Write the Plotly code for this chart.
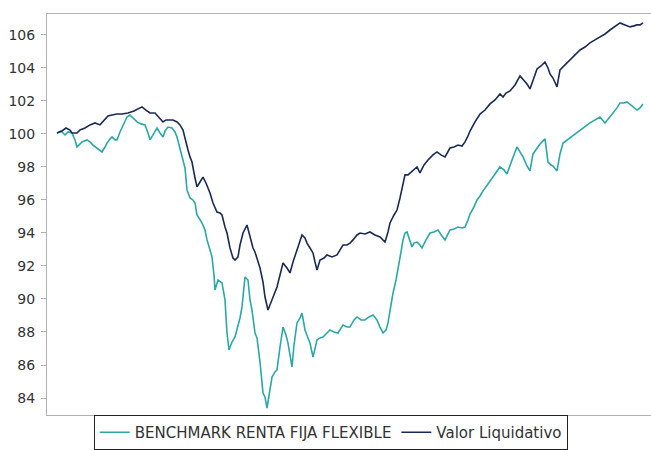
import plotly.graph_objects as go

# Trading-day index and values
vl_dias = [0, 5, 9, 13, 15, 20, 23, 28, 33, 38, 43, 47, 51, 55, 60, 65, 71, 77, 81, 85, 89, 93, 98,
           103, 106, 109, 113, 116, 120, 123, 126, 129, 131, 133, 135, 138, 140, 143, 146, 149, 153,
           156, 160, 163, 165, 168, 170, 173, 176, 178, 181, 183, 186, 190, 193, 196, 198, 200, 203,
           206, 208, 211, 213, 216, 220, 223, 226, 230, 233, 236, 240, 243, 245, 248, 250, 253, 256,
           258, 260, 263, 267, 270, 275, 280, 283, 286, 290, 293, 296, 300, 303, 308, 313, 318, 323,
           328, 331, 333, 337, 340, 343, 345, 348, 351, 353, 356, 360, 363, 367, 371, 376, 380, 384,
           388, 393, 397, 401, 405, 408, 411, 413, 418, 423, 428, 433, 438, 443, 446, 449, 453, 458,
           463, 467, 470, 473, 477, 480, 484, 488, 491, 493, 496, 500, 503, 508, 513, 518, 523, 528,
           533, 538, 543, 548, 553, 558, 563, 568, 573, 577, 580, 583, 586]
vl_valores = [100.06, 100.18, 100.36, 100.24, 100.06, 100.06, 100.24, 100.36, 100.55, 100.67, 100.55,
              100.85, 101.09, 101.15, 101.21, 101.21, 101.27, 101.39, 101.52, 101.64, 101.45, 101.27,
              101.27, 100.97, 100.73, 100.85, 100.85, 100.85, 100.73, 100.55, 100.24, 99.45, 99.03,
              98.61, 98.30, 97.33, 96.79, 97.09, 97.39, 97.03, 96.42, 95.82, 95.27, 95.21, 95.09,
              94.36, 94.00, 93.09, 92.48, 92.36, 92.55, 93.27, 94.00, 94.48, 93.76, 93.09, 92.85,
              92.48, 91.88, 91.03, 90.12, 89.33, 89.64, 90.06, 90.73, 91.45, 92.18, 91.88, 91.58,
              92.24, 92.97, 93.45, 93.88, 93.70, 93.39, 93.09, 92.79, 92.24, 91.76, 92.36, 92.48,
              92.67, 92.55, 92.67, 92.97, 93.27, 93.27, 93.39, 93.58, 93.88, 94.00, 93.94, 94.06,
              93.88, 93.76, 93.45, 94.06, 94.61, 95.09, 95.39, 96.12, 96.61, 97.52, 97.52, 97.64,
              97.82, 98.00, 97.64, 98.12, 98.42, 98.73, 98.91, 98.73, 98.61, 99.15, 99.21, 99.33,
              99.27, 99.52, 99.88, 100.18, 100.73, 101.21, 101.45, 101.82, 102.06, 102.42, 102.24,
              102.48, 102.61, 102.97, 103.52, 103.27, 103.03, 102.73, 103.39, 103.94, 104.12, 104.36,
              104.00, 103.64, 103.39, 102.85, 103.88, 104.18, 104.48, 104.79, 105.09, 105.27, 105.52,
              105.70, 105.88, 106.06, 106.30, 106.49, 106.73, 106.61, 106.49, 106.55, 106.61, 106.61,
              106.73]

bm_dias = [0, 4, 8, 11, 15, 18, 20, 23, 25, 30, 33, 36, 40, 43, 45, 48, 50, 53, 55, 58, 60, 63, 67,
           70, 73, 76, 80, 84, 88, 91, 93, 96, 100, 103, 106, 108, 111, 115, 118, 120, 123, 126, 128,
           130, 133, 136, 138, 140, 143, 145, 148, 150, 153, 155, 157, 158, 161, 165, 168, 170, 172,
           175, 178, 181, 183, 185, 188, 191, 193, 195, 198, 200, 203, 206, 208, 210, 213, 215, 218,
           220, 223, 226, 229, 231, 235, 237, 240, 243, 245, 248, 251, 253, 256, 260, 263, 266, 270,
           273, 277, 281, 286, 290, 293, 297, 300, 304, 308, 312, 316, 320, 323, 326, 329, 331, 334,
           336, 339, 341, 344, 346, 348, 350, 353, 355, 357, 360, 363, 365, 369, 373, 377, 381, 385,
           388, 391, 393, 397, 401, 405, 408, 411, 413, 417, 420, 423, 426, 431, 436, 440, 443, 447,
           450, 455, 460, 463, 466, 470, 473, 476, 480, 483, 488, 491, 494, 496, 500, 503, 506, 510,
           514, 520, 526, 533, 538, 543, 548, 552, 556, 560, 563, 567, 570, 575, 580, 583, 586]
bm_valores = [100.06, 100.18, 99.94, 100.12, 100.06, 99.64, 99.21, 99.39, 99.52, 99.64, 99.52, 99.33,
              99.15, 99.03, 98.91, 99.21, 99.45, 99.70, 99.82, 99.64, 99.64, 100.12, 100.67, 101.03,
              101.15, 100.97, 100.73, 100.61, 100.55, 100.06, 99.64, 99.94, 100.36, 100.06, 99.82,
              100.18, 100.42, 100.36, 100.12, 99.82, 99.15, 98.42, 97.94, 96.61, 96.12, 96.00, 95.82,
              95.09, 94.79, 94.61, 94.18, 93.58, 92.97, 92.55, 91.45, 90.55, 91.15, 90.97, 89.94,
              87.94, 86.91, 87.39, 87.70, 88.30, 88.85, 89.52, 91.33, 91.15, 89.94, 89.33, 87.94,
              87.64, 86.18, 84.30, 84.06, 83.39, 84.48, 85.27, 85.58, 85.70, 87.09, 88.30, 87.82,
              87.33, 85.88, 87.21, 88.55, 88.85, 89.15, 88.12, 87.64, 87.33, 86.48, 87.52, 87.64,
              87.70, 87.94, 88.12, 88.00, 87.94, 88.42, 88.30, 88.30, 88.73, 88.91, 88.73, 88.73,
              88.91, 89.03, 88.73, 88.30, 87.94, 88.12, 88.55, 89.64, 90.36, 91.15, 91.94, 92.85,
              93.58, 94.00, 94.06, 93.58, 93.15, 93.39, 93.45, 93.27, 93.09, 93.58, 94.00, 94.06,
              94.18, 93.82, 93.58, 93.94, 94.18, 94.24, 94.36, 94.30, 94.36, 94.79, 95.15, 95.58,
              96.00, 96.24, 96.55, 96.97, 97.39, 97.70, 98.00, 97.82, 97.58, 98.42, 99.21, 98.91,
              98.61, 98.06, 97.76, 98.79, 99.15, 99.39, 99.70, 98.30, 98.12, 98.06, 97.76, 98.79,
              99.45, 99.64, 99.82, 100.06, 100.36, 100.67, 100.85, 101.03, 100.67, 100.97, 101.27,
              101.58, 101.88, 101.88, 101.94, 101.70, 101.45, 101.58, 101.82]

y_ticks = [84, 86, 88, 90, 92, 94, 96, 98, 100, 102, 104, 106]

fig = go.Figure()
fig.add_trace(go.Scatter(x=bm_dias, y=bm_valores, mode="lines",
                         name="BENCHMARK RENTA FIJA FLEXIBLE",
                         line=dict(color="#2aa8a6", width=1.6)))
fig.add_trace(go.Scatter(x=vl_dias, y=vl_valores, mode="lines",
                         name="Valor Liquidativo",
                         line=dict(color="#1b2a55", width=1.6)))

fig.update_layout(
    width=651, height=450,
    margin=dict(l=47, r=0, t=14, b=35, autoexpand=False),
    paper_bgcolor="white", plot_bgcolor="white",
    font=dict(family="DejaVu Sans", color="#333333"),
    showlegend=True,
    legend=dict(orientation="h", xref="container", x=0.508, xanchor="center",
                yref="container", y=0.0, yanchor="bottom",
                bordercolor="#222222", borderwidth=1, bgcolor="white",
                font=dict(size=15, color="#333333"),
                itemwidth=30, tracegroupgap=0),
    xaxis=dict(range=[-10, 594], showticklabels=False, ticks="", showgrid=False,
               zeroline=False, showline=True, linecolor="#b0b0b0", linewidth=1, mirror=True),
    yaxis=dict(range=[82.97, 107.27], tickvals=y_ticks, ticktext=[str(t) for t in y_ticks],
               ticks="outside", ticklen=5, tickcolor="#b0b0b0", showgrid=False, zeroline=False,
               showline=True, linecolor="#b0b0b0", linewidth=1, ticklabelstandoff=3,
               tickfont=dict(size=14, color="#333333")),
)

fig.write_html("out.html", config={"displayModeBar": False},
               post_script="document.body.style.margin='0';document.body.style.overflow='hidden';")
